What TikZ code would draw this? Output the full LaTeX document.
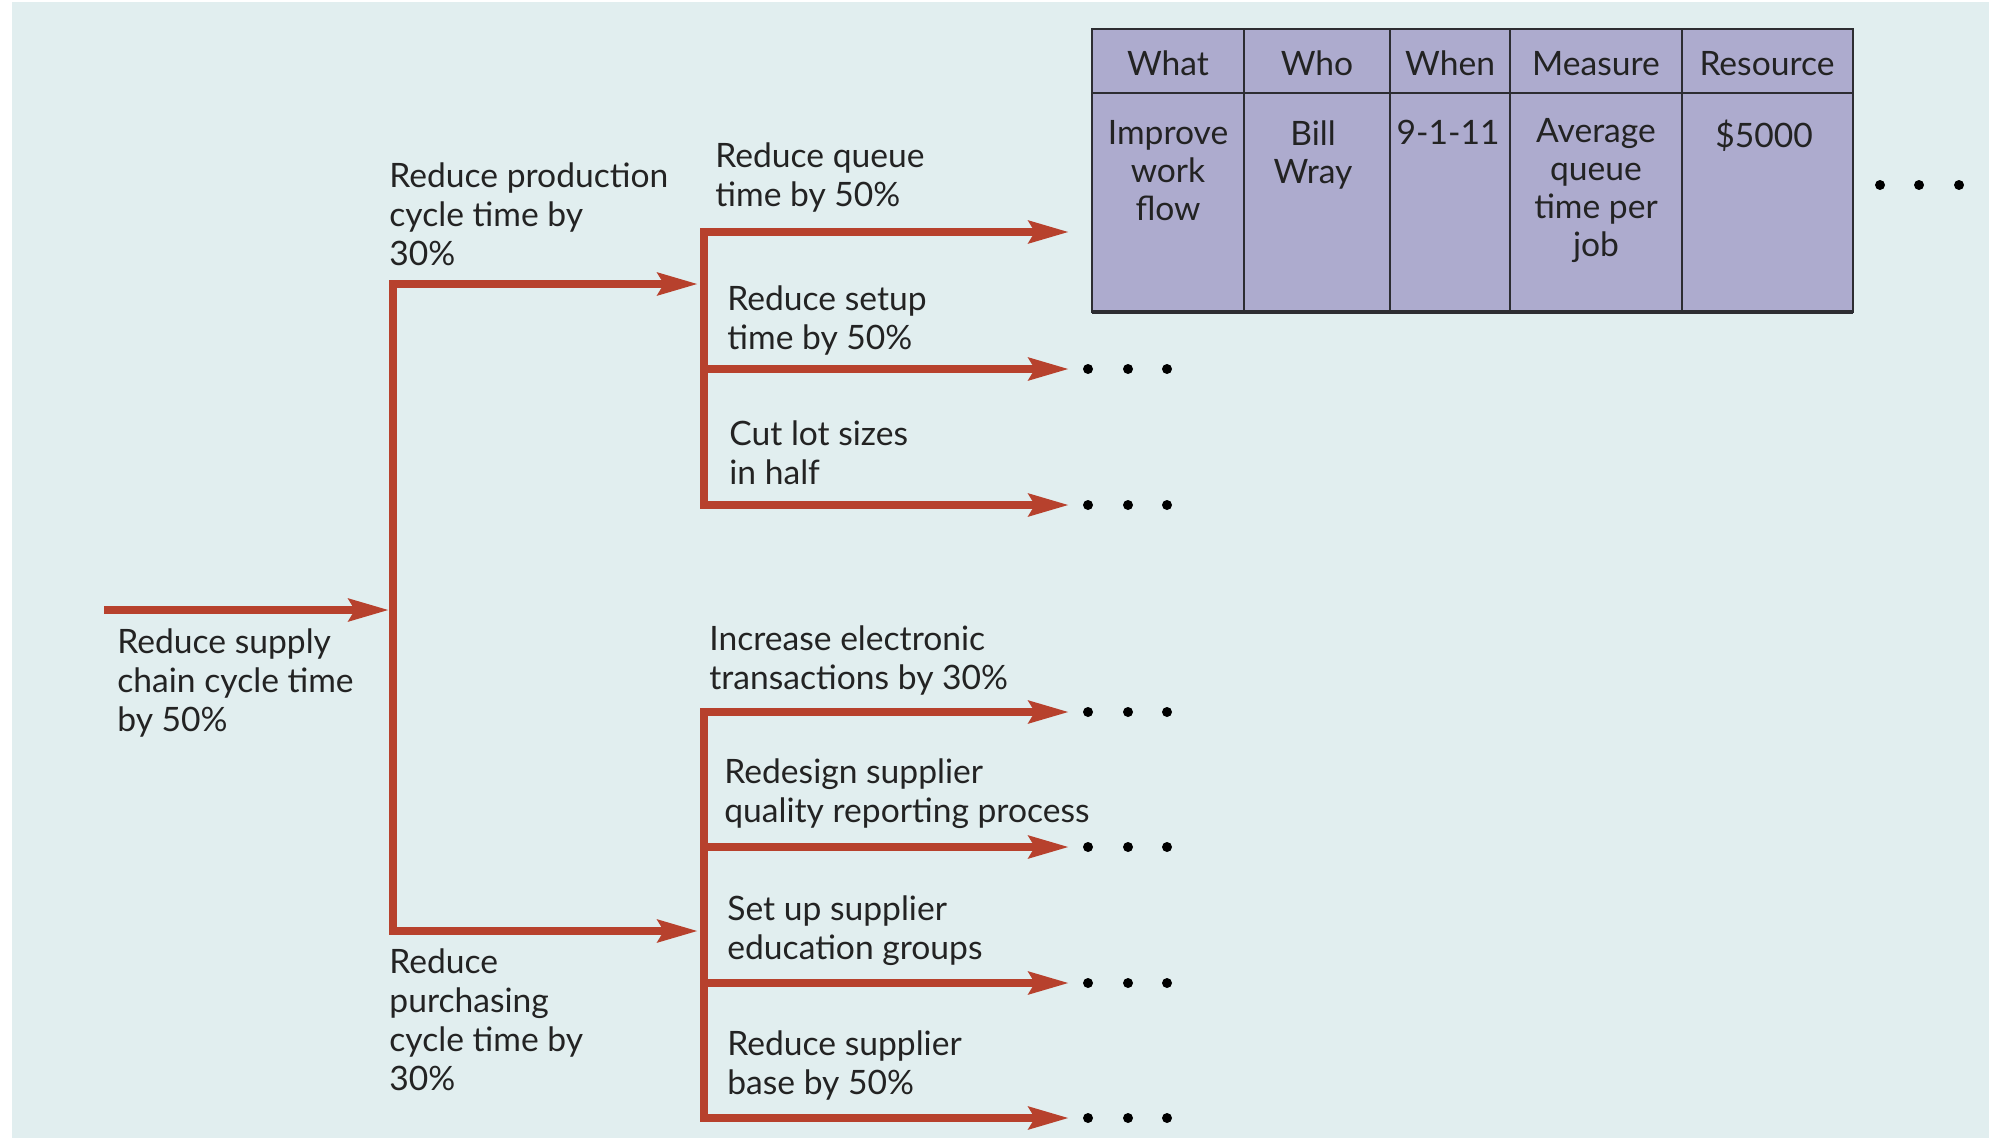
\documentclass[tikz,border=0pt]{standalone}
\usepackage{fontspec}
\setmainfont{Lato}
\usetikzlibrary{arrows.meta}
\definecolor{bgc}{RGB}{225,238,239}
\definecolor{arr}{RGB}{183,65,45}
\definecolor{tbl}{RGB}{173,171,206}
\definecolor{txt}{RGB}{35,35,35}
\definecolor{rule}{RGB}{45,45,50}
\begin{document}
\begin{tikzpicture}[x=0.5pt,y=-0.5pt,
  lbl/.style={anchor=north west, align=left, inner sep=0pt, font=\fontsize{16.8}{19.5}\selectfont, text=txt},
  cell/.style={anchor=north, align=center, inner sep=0pt, font=\fontsize{16.8}{19}\selectfont, text=txt},
  head/.style={anchor=base, inner sep=0pt, font=\fontsize{16.8}{19}\selectfont, text=txt},
  conn/.style={draw=arr, line width=4pt, line join=miter, -{Stealth[length=20pt,width=11pt,inset=3pt]}},
  dot/.style={circle, fill=black, inner sep=0pt, minimum size=5pt}]
\useasboundingbox (0,0) rectangle (1989,1140);
\fill[white] (0,0) rectangle (1989,1140);
\fill[bgc] (12,2) rectangle (1989,1138);

% ---- level 0
\coordinate (s0) at (104,610);
\coordinate (m0) at (393,610);
\coordinate (t0) at (389,610);
\coordinate (c1) at (393,284);
\coordinate (c2) at (393,931);
\coordinate (a1) at (698,284);
\coordinate (a2) at (698,931);
\draw[conn] (s0) -- (t0);
\draw[conn] (m0) -- (c1) -- (a1);
\draw[conn] (m0) -- (c2) -- (a2);

% ---- level 1 top group
\coordinate (u1) at (704,232);
\coordinate (u2) at (704,369);
\coordinate (u3) at (704,505);
\coordinate (ue1) at (1069,232);
\coordinate (ue2) at (1069,369);
\coordinate (ue3) at (1069,505);
\draw[conn] (u2) -- (u1) -- (ue1);
\draw[conn] (u2) -- (ue2);
\draw[conn] (u2) -- (u3) -- (ue3);

% ---- level 1 bottom group
\coordinate (v1) at (704,712);
\coordinate (v2) at (704,847);
\coordinate (v3) at (704,983);
\coordinate (v4) at (704,1118);
\coordinate (ve1) at (1069,712);
\coordinate (ve2) at (1069,847);
\coordinate (ve3) at (1069,983);
\coordinate (ve4) at (1069,1118);
\draw[conn] (v3) -- (v1) -- (ve1);
\draw[conn] (v2) -- (ve2);
\draw[conn] (v3) -- (ve3);
\draw[conn] (v3) -- (v4) -- (ve4);

% ---- labels
\node[lbl] (l0) at (117,628) {Reduce supply\\chain cycle time\\by 50\%};
\node[lbl] (l1) at (389,162) {Reduce production\\cycle time by\\30\%};
\node[lbl] (l2) at (389,948) {Reduce\\purchasing\\cycle time by\\30\%};
\node[lbl] (q1) at (715,142) {Reduce queue\\time by 50\%};
\node[lbl] (q2) at (727,285) {Reduce setup\\time by 50\%};
\node[lbl] (q3) at (729,420) {Cut lot sizes\\in half};
\node[lbl] (r1) at (709,625) {Increase electronic\\transactions by 30\%};
\node[lbl] (r2) at (724,758) {Redesign supplier\\quality reporting process};
\node[lbl] (r3) at (727,895) {Set up supplier\\education groups};
\node[lbl] (r4) at (727,1030) {Reduce supplier\\base by 50\%};

% ---- dots
\foreach \yy/\nm in {369/a,505/b,712/c,847/d,983/e,1118/f}{
  \node[dot] (d\nm1) at (1088,\yy) {};
  \node[dot] (d\nm2) at (1128,\yy) {};
  \node[dot] (d\nm3) at (1167,\yy) {};
}
\node[dot] (dt1) at (1880,185) {};
\node[dot] (dt2) at (1919,185) {};
\node[dot] (dt3) at (1959,185) {};

% ---- table
\filldraw[fill=tbl, draw=rule, line width=1pt] (1092,29) rectangle (1853,312);
\draw[rule, line width=1pt] (1092,93) -- (1853,93);
\foreach \xx in {1244,1390,1510,1682}{
  \draw[rule, line width=1pt] (\xx,29) -- (\xx,312);
}
\draw[rule, line width=2pt] (1092,312) -- (1853,312);
\node[head] (h1) at (1168,75) {What};
\node[head] (h2) at (1317,75) {Who};
\node[head] (h3) at (1450,75) {When};
\node[head] (h4) at (1596,75) {Measure};
\node[head] (h5) at (1767,75) {Resource};
\node[cell] (b1) at (1168,120) {Improve\\work\\flow};
\node[cell] (b2) at (1313,120) {Bill\\Wray};
\node[cell] (b3) at (1448,120) {9-1-11};
\node[cell] (b4) at (1596,118) {Average\\queue\\time per\\job};
\node[cell] (b5) at (1764,120) {\$5000};
\end{tikzpicture}
\end{document}
